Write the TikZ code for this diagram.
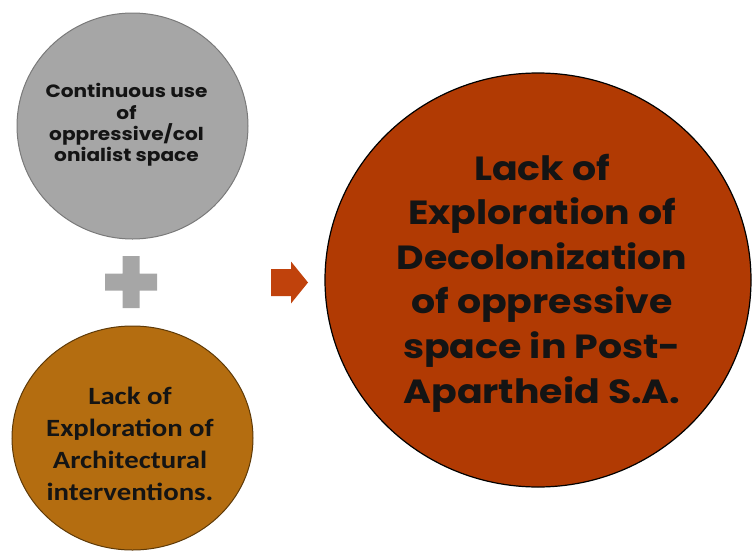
\documentclass[tikz,border=0pt]{standalone}
\usepackage{fontspec}
\setmainfont{Poppins}
\newfontfamily\widegothic{Poppins}[FakeStretch=1.13]
\newfontfamily\calfont{Carlito}[FakeStretch=1.16]
\usetikzlibrary{shapes.geometric}

\definecolor{greyfill}{HTML}{A6A6A6}
\definecolor{greyline}{HTML}{7A7A7A}
\definecolor{ochre}{HTML}{B46D10}
\definecolor{ochreline}{HTML}{5E3A08}
\definecolor{rust}{HTML}{B13A03}
\definecolor{arrowred}{HTML}{C0420C}
\definecolor{inktext}{HTML}{141414}

\tikzset{
  bubble/.style={ellipse, inner sep=0pt, align=center, text=inktext, line width=1pt},
  caption/.style={inner sep=0pt, align=center, text=inktext},
}

\begin{document}
\begin{tikzpicture}[x=1pt, y=-1pt]
  \useasboundingbox (0,0) rectangle (752,554);

  % first cause
  \node[bubble, fill=greyfill, draw=greyline, minimum width=231pt, minimum height=226pt] (cause1) at (132.5,126) {};
  \node[caption, font=\widegothic\bfseries\fontsize{17.8}{21.4}\selectfont] (cause1text) at (126.5,125)
        {Continuous use\\of\\oppressive/col\\onialist space};

  % second cause
  \node[bubble, fill=ochre, draw=ochreline, minimum width=241pt, minimum height=224pt] (cause2) at (132.5,438) {};
  \node[caption, font=\calfont\bfseries\fontsize{24.8}{31.8}\selectfont] (cause2text) at (130,444)
        {Lack of\\Exploration of\\Architectural\\interventions.};

  % outcome
  \node[bubble, fill=rust, draw=black, line width=1.2pt, minimum width=426pt, minimum height=414pt] (result) at (538,280) {};
  \node[caption, font=\widegothic\bfseries\fontsize{33.5}{44.6}\selectfont] (resulttext) at (542,283)
        {Lack of\\Exploration of\\Decolonization\\of oppressive\\space in Post-\\Apartheid S.A.};

  % plus sign between the causes
  \coordinate (plus) at (131,282);
  \fill[greyfill] ([xshift=-26pt,yshift=-8.5pt]plus) -- ([xshift=-8.5pt,yshift=-8.5pt]plus)
    -- ([xshift=-8.5pt,yshift=-26pt]plus) -- ([xshift=8.5pt,yshift=-26pt]plus)
    -- ([xshift=8.5pt,yshift=-8.5pt]plus) -- ([xshift=26pt,yshift=-8.5pt]plus)
    -- ([xshift=26pt,yshift=8.5pt]plus) -- ([xshift=8.5pt,yshift=8.5pt]plus)
    -- ([xshift=8.5pt,yshift=26pt]plus) -- ([xshift=-8.5pt,yshift=26pt]plus)
    -- ([xshift=-8.5pt,yshift=8.5pt]plus) -- ([xshift=-26pt,yshift=8.5pt]plus) -- cycle;

  % block arrow towards the outcome
  \coordinate (arr) at (271,282.5);
  \fill[arrowred] ([yshift=-13.5pt]arr) -- ([xshift=20pt,yshift=-13.5pt]arr)
    -- ([xshift=20pt,yshift=-21pt]arr) -- ([xshift=37pt]arr)
    -- ([xshift=20pt,yshift=21pt]arr) -- ([xshift=20pt,yshift=13.5pt]arr)
    -- ([yshift=13.5pt]arr) -- cycle;
\end{tikzpicture}
\end{document}
